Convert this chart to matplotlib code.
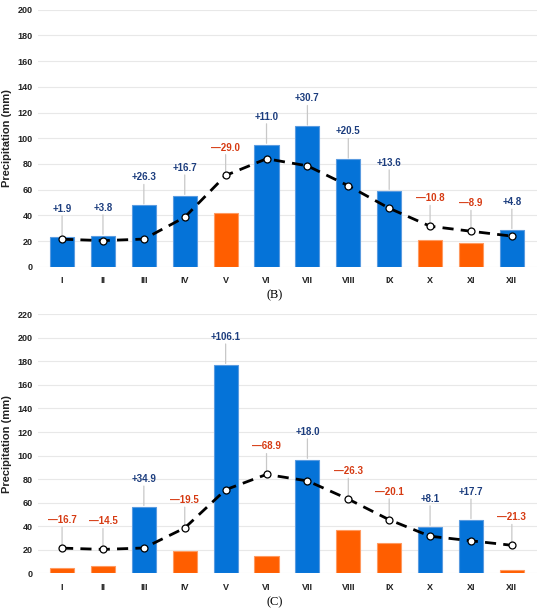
import matplotlib.pyplot as plt

plt.rcParams['font.family'] = ['Liberation Sans', 'DejaVu Sans']

months = ["I", "II", "III", "IV", "V", "VI", "VII", "VIII", "IX", "X", "XI", "XII"]

# long-term mean monthly precipitation (mm)
mean_precip = [21.4, 20.3, 21.5, 38.5, 71.0, 84.0, 78.5, 63.0, 45.5, 31.5, 27.6, 23.8]

# panel B
precip_b = [23.3, 24.1, 47.8, 55.2, 42.0, 95.0, 109.2, 83.5, 59.1, 20.7, 18.7, 28.6]
dev_b = [1.9, 3.8, 26.3, 16.7, -29.0, 11.0, 30.7, 20.5, 13.6, -10.8, -8.9, 4.8]

# panel C
precip_c = [4.7, 5.8, 56.4, 19.0, 177.1, 15.1, 96.5, 36.7, 25.4, 39.6, 45.3, 2.5]
dev_c = [-16.7, -14.5, 34.9, -19.5, 106.1, -68.9, 18.0, -26.3, -20.1, 8.1, 17.7, -21.3]

BLUE = "#0573D8"
ORANGE = "#FF5E00"
TXT_BLUE = "#1C3D7E"
TXT_RED = "#D63A12"


def draw_panel(ax, precip, dev, ymax, step, tag, tag_y):
    x = list(range(len(months)))
    colors = [BLUE if d >= 0 else ORANGE for d in dev]
    edges = ["#5A9BE0" if d >= 0 else "#FF9A60" for d in dev]
    ax.bar(x, precip, width=0.59, color=colors, edgecolor=edges,
           linewidth=0.8, zorder=2)
    ax.plot(x, mean_precip, color="black", lw=2.0, dashes=(4, 2.6),
            marker="o", markersize=5, markerfacecolor="white",
            markeredgecolor="black", markeredgewidth=0.9, zorder=3)

    for i, d in enumerate(dev):
        top = max(precip[i], mean_precip[i])
        ax.annotate("", xy=(i, top), xytext=(0, 15),
                    textcoords="offset points",
                    arrowprops=dict(arrowstyle="-", color="#C8C8C8", lw=0.9,
                                    shrinkA=0, shrinkB=1),
                    zorder=1)
        label = ("+%.1f" % d) if d >= 0 else ("\u2014%.1f" % abs(d))
        ax.annotate(label, xy=(i, top), xytext=(0, 16.5),
                    textcoords="offset points", ha="center", va="bottom",
                    fontsize=7, fontweight="bold",
                    color=TXT_BLUE if d >= 0 else TXT_RED)

    ax.set_xlim(-0.59, 11.61)
    ax.set_ylim(0, ymax)
    ax.set_yticks(range(0, ymax + 1, step))
    ax.set_xticks(x)
    ax.set_xticklabels(months)
    ax.grid(axis="y", color="#E8E8E8", lw=0.8, zorder=0)
    ax.set_axisbelow(True)
    for s in ax.spines.values():
        s.set_visible(False)
    ax.tick_params(length=0, labelsize=6.5, colors="#222222", pad=4)
    ax.tick_params(axis="x", pad=7)
    for lab in ax.get_xticklabels() + ax.get_yticklabels():
        lab.set_fontweight("bold")
    ax.set_ylabel("Precipitation (mm)", fontsize=8, fontweight="bold",
                  color="#222222")
    ax.yaxis.set_label_coords(-0.053, 0.5)
    ax.figure.text(0.5, tag_y, tag, ha="center", va="center",
                   fontsize=9, family="Liberation Serif")


fig = plt.figure(figsize=(5.5, 6.11), dpi=100)

ax1 = fig.add_axes([0.069, 0.5635, 0.907, 0.4206])
draw_panel(ax1, precip_b, dev_b, 200, 20, "(B)", 1 - 295 / 611)

ax2 = fig.add_axes([0.069, 0.0617, 0.907, 0.4239])
draw_panel(ax2, precip_c, dev_c, 220, 20, "(C)", 1 - 602 / 611)

fig.savefig("out.png", dpi=100)
plt.close(fig)
